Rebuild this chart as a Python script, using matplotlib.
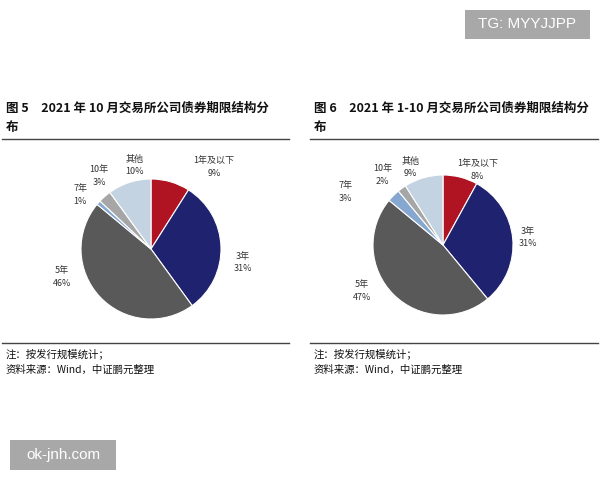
import matplotlib
matplotlib.use("Agg")
import matplotlib.pyplot as plt
from matplotlib.patches import Rectangle
from matplotlib.lines import Line2D

plt.rcParams['font.family'] = ['Noto Sans CJK SC', 'DejaVu Sans']

# data
terms = ["1年及以下", "3年", "5年", "7年", "10年", "其他"]
oct_share = [9, 31, 46, 1, 3, 10]
jan_oct_share = [8, 31, 47, 3, 2, 9]
titles = ["图 5　2021 年 10 月交易所公司债券期限结构分\n布",
          "图 6　2021 年 1-10 月交易所公司债券期限结构分\n布"]
note_lines = ["注：按发行规模统计；", "资料来源：Wind，中证鹏元整理"]

colors = ["#B01322", "#1F226E", "#595959", "#86A8D0", "#A6A6A6", "#C4D3E1"]

# label spots in pie-radius units (layout only)
left_label_xy = [(0.90, 1.17), (1.31, -0.19), (-1.27, -0.40),
                 (-1.01, 0.77), (-0.74, 1.04), (-0.23, 1.19)]
right_label_xy = [(0.49, 1.07), (1.21, 0.11), (-1.16, -0.66),
                  (-1.39, 0.76), (-0.86, 1.00), (-0.46, 1.11)]

W, H = 600, 480
fig = plt.figure(figsize=(W / 100, H / 100), dpi=100)


def fx(x):
    return x / W


def fy(y):
    return 1 - y / H


def draw_panel(x0, x1, title, values, cx, cy, r, label_xy):
    fig.text(fx(x0 + 4), fy(102), title, fontsize=9, fontweight='bold',
             va='top', ha='left', color='#111111', linespacing=1.55)
    fig.add_artist(Line2D([fx(x0), fx(x1)], [fy(139), fy(139)],
                          color='#444444', lw=1.0))
    fig.add_artist(Line2D([fx(x0), fx(x1)], [fy(343), fy(343)],
                          color='#444444', lw=1.0))
    fig.text(fx(x0 + 4), fy(354), note_lines[0], fontsize=7.5,
             va='center', ha='left', color='#111111')
    fig.text(fx(x0 + 4), fy(370), note_lines[1], fontsize=7.5,
             va='center', ha='left', color='#111111')

    ax = fig.add_axes([fx(cx - r), fy(cy + r), 2 * r / W, 2 * r / H])
    ax.pie(values, colors=colors, startangle=90, counterclock=False,
           wedgeprops=dict(edgecolor='white', linewidth=0.8))
    ax.set_xlim(-1, 1)
    ax.set_ylim(-1, 1)
    for name, v, (lx, ly) in zip(terms, values, label_xy):
        ax.text(lx, ly, "%s\n%d%%" % (name, v), ha='center', va='center',
                fontsize=6.5, color='#333333', linespacing=1.5)


draw_panel(2, 289, titles[0], oct_share, 151, 249, 70, left_label_xy)
draw_panel(310, 598, titles[1], jan_oct_share, 443, 245, 70, right_label_xy)

# watermarks
fig.add_artist(Rectangle((fx(465), fy(39)), 125 / W, 29 / H,
                         transform=fig.transFigure, color='#A8A8A8', lw=0))
fig.text(fx(527), fy(24.5), "TG: MYYJJPP", fontsize=11, color='white',
         ha='center', va='center', family=['Liberation Sans', 'DejaVu Sans'])
fig.add_artist(Rectangle((fx(10), fy(470)), 106 / W, 30 / H,
                         transform=fig.transFigure, color='#A8A8A8', lw=0))
fig.text(fx(63), fy(455), "ok-jnh.com", fontsize=11, color='white',
         ha='center', va='center', family=['Liberation Sans', 'DejaVu Sans'])

fig.savefig("out.png", dpi=100)
